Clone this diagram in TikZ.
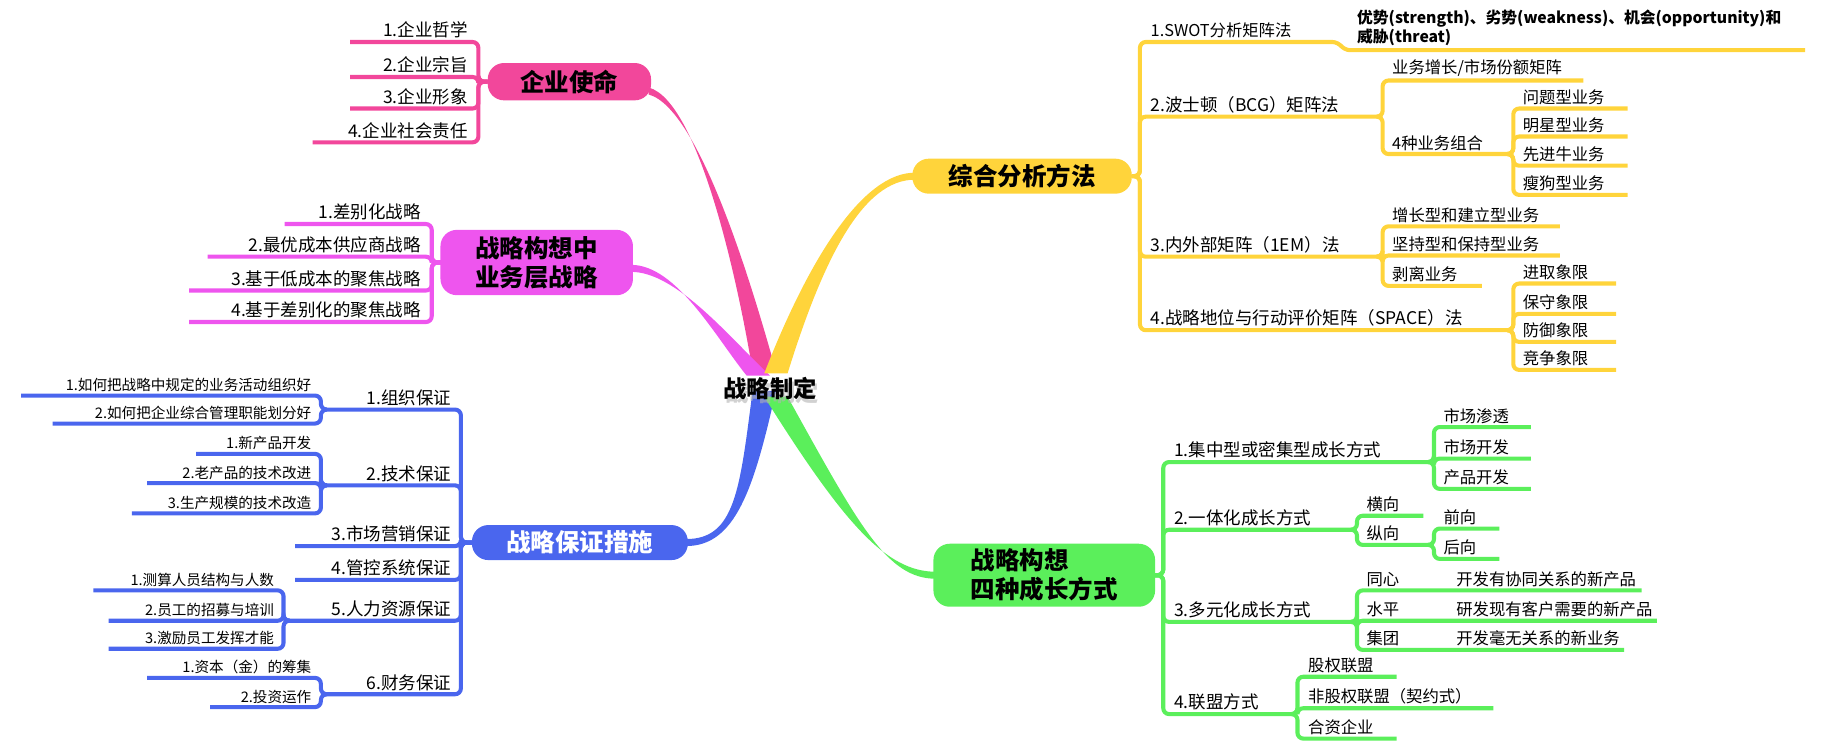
\documentclass[tikz,border=0pt]{standalone}
\usepackage{fontspec}
\setmainfont{Noto Sans CJK SC}
\usetikzlibrary{calc}
\definecolor{pk}{HTML}{F2479B}
\definecolor{mg}{HTML}{EE55EE}
\definecolor{bl}{HTML}{4A66EE}
\definecolor{ye}{HTML}{FFD43B}
\definecolor{gr}{HTML}{5BEF5B}
\tikzset{
 ln/.style={line width=3.5pt,rounded corners=5pt,#1},
 ta/.style={inner sep=1pt,font=\fontsize{14}{16}\selectfont},
 tb/.style={inner sep=1pt,font=\fontsize{15}{17}\selectfont},
 tc/.style={inner sep=1pt,font=\fontsize{12.5}{14}\selectfont},
 main/.style={rounded corners=14pt,inner sep=0pt,font=\bfseries\fontsize{21}{25}\selectfont,align=left}
}
\newcommand\br[9]{\draw[ln=#1] (#2,#3) -- (#4,#3) |- (#6,#5); \node[#8] at (#9,#5-2) {#7};}
\newcommand\taper[5]{\fill[#1] ($(#2)+(-10,0)$) .. controls ($(#3)+(-6,0)$) and ($(#4)+(0,-3)$) .. ($(#5)+(0,-3)$) -- ($(#5)+(0,3)$) .. controls ($(#4)+(0,3)$) and ($(#3)+(6,0)$) .. ($(#2)+(10,0)$) -- cycle;}
\begin{document}
\begin{tikzpicture}[x=1pt,y=-1pt]
\useasboundingbox (0,0) rectangle (1565,641);
\taper{pk}{655,318}{640,250}{600,90}{556,78}
\taper{mg}{650,322}{620,290}{580,230}{541,230}
\taper{bl}{655,335}{640,420}{630,465}{588,465}
\taper{ye}{665,320}{700,220}{740,151}{784,151}
\taper{gr}{665,340}{730,450}{760,493}{802,493}
\node[main,fill=pk,minimum width=140pt,minimum height=32pt] (m1) at (488,70) {企业使命};
\node[main,fill=mg,minimum width=165pt,minimum height=56pt] (m2) at (460,225) {战略构想中\\业务层战略};
\node[main,fill=bl,text=white,minimum width=185pt,minimum height=30pt] (m3) at (497,465) {战略保证措施};
\node[main,fill=ye,minimum width=188pt,minimum height=30pt] (m4) at (876,151) {综合分析方法};
\node[main,fill=gr,minimum width=190pt,minimum height=54pt] (m5) at (895,493) {战略构想\\四种成长方式};
\node[text=gray!60,opacity=.6,font=\bfseries\fontsize{20}{24}\selectfont] (cs) at (662,336) {战略制定};
\node[font=\bfseries\fontsize{20}{24}\selectfont] (c) at (660,333) {战略制定};
% pink
\br{pk}{418}{70}{410}{36}{300}{1.企业哲学}{tb,anchor=south east}{402}
\br{pk}{418}{70}{410}{66}{300}{2.企业宗旨}{tb,anchor=south east}{402}
\br{pk}{418}{70}{410}{93}{300}{3.企业形象}{tb,anchor=south east}{402}
\br{pk}{418}{70}{410}{122}{268}{4.企业社会责任}{tb,anchor=south east}{402}
% magenta
\br{mg}{378}{225}{370}{192}{244}{1.差别化战略}{tb,anchor=south east}{362}
\br{mg}{378}{225}{370}{220}{178}{2.最优成本供应商战略}{tb,anchor=south east}{362}
\br{mg}{378}{225}{370}{249}{162}{3.基于低成本的聚焦战略}{tb,anchor=south east}{362}
\br{mg}{378}{225}{370}{276}{162}{4.基于差别化的聚焦战略}{tb,anchor=south east}{362}
% blue
\br{bl}{405}{465}{395}{351}{278}{1.组织保证}{tb,anchor=south east}{388}
\br{bl}{405}{465}{395}{416}{275}{2.技术保证}{tb,anchor=south east}{388}
\br{bl}{405}{465}{395}{468}{253}{3.市场营销保证}{tb,anchor=south east}{388}
\br{bl}{405}{465}{395}{497}{253}{4.管控系统保证}{tb,anchor=south east}{388}
\br{bl}{405}{465}{395}{532}{243}{5.人力资源保证}{tb,anchor=south east}{388}
\br{bl}{405}{465}{395}{595}{275}{6.财务保证}{tb,anchor=south east}{388}
\br{bl}{280}{351}{275}{339}{18}{1.如何把战略中规定的业务活动组织好}{tc,anchor=south east}{268}
\br{bl}{280}{351}{275}{363}{45}{2.如何把企业综合管理职能划分好}{tc,anchor=south east}{268}
\br{bl}{280}{416}{275}{389}{168}{1.新产品开发}{tc,anchor=south east}{268}
\br{bl}{280}{416}{275}{414}{126}{2.老产品的技术改进}{tc,anchor=south east}{268}
\br{bl}{280}{416}{275}{440}{113}{3.生产规模的技术改造}{tc,anchor=south east}{268}
\br{bl}{248}{532}{243}{506}{80}{1.测算人员结构与人数}{tc,anchor=south east}{236}
\br{bl}{248}{532}{243}{532}{93}{2.员工的招募与培训}{tc,anchor=south east}{236}
\br{bl}{248}{532}{243}{556}{93}{3.激励员工发挥才能}{tc,anchor=south east}{236}
\br{bl}{280}{595}{275}{581}{126}{1.资本（金）的筹集}{tc,anchor=south east}{268}
\br{bl}{280}{595}{275}{606}{180}{2.投资运作}{tc,anchor=south east}{268}
% yellow
\draw[ln=ye] (970,151) -- (977,151) |- (1147,36) -- (1152,43) -- (1547,43);
\node[ta,anchor=south west] (y1) at (985,34) {1.SWOT分析矩阵法};
\node[inner sep=1pt,anchor=south west,align=left,font=\bfseries\fontsize{13.5}{14.5}\selectfont] (swot) at (1162,40) {优势(strength)、劣势(weakness)、机会(opportunity)和\\威胁(threat)};
\br{ye}{970}{151}{977}{100}{1185}{2.波士顿（BCG）矩阵法}{tb,anchor=south west}{985}
\br{ye}{970}{151}{977}{220}{1185}{3.内外部矩阵（1EM）法}{tb,anchor=south west}{985}
\br{ye}{970}{151}{977}{283}{1297}{4.战略地位与行动评价矩阵（SPACE）法}{tb,anchor=south west}{985}
\br{ye}{1180}{100}{1185}{69}{1357}{业务增长/市场份额矩阵}{ta,anchor=south west}{1192}
\br{ye}{1180}{100}{1185}{132}{1297}{4种业务组合}{ta,anchor=south west}{1192}
\br{ye}{1292}{132}{1297}{93}{1395}{问题型业务}{ta,anchor=south west}{1304}
\br{ye}{1292}{132}{1297}{117}{1395}{明星型业务}{ta,anchor=south west}{1304}
\br{ye}{1292}{132}{1297}{142}{1395}{先进牛业务}{ta,anchor=south west}{1304}
\br{ye}{1292}{132}{1297}{167}{1395}{瘦狗型业务}{ta,anchor=south west}{1304}
\br{ye}{1180}{220}{1185}{194}{1337}{增长型和建立型业务}{ta,anchor=south west}{1192}
\br{ye}{1180}{220}{1185}{219}{1337}{坚持型和保持型业务}{ta,anchor=south west}{1192}
\br{ye}{1180}{220}{1185}{245}{1270}{剥离业务}{ta,anchor=south west}{1192}
\br{ye}{1292}{283}{1297}{243}{1385}{进取象限}{ta,anchor=south west}{1304}
\br{ye}{1292}{283}{1297}{269}{1385}{保守象限}{ta,anchor=south west}{1304}
\br{ye}{1292}{283}{1297}{293}{1385}{防御象限}{ta,anchor=south west}{1304}
\br{ye}{1292}{283}{1297}{317}{1385}{竞争象限}{ta,anchor=south west}{1304}
% green
\br{gr}{990}{493}{997}{396}{1229}{1.集中型或密集型成长方式}{tb,anchor=south west}{1005}
\br{gr}{990}{493}{997}{454}{1163}{2.一体化成长方式}{tb,anchor=south west}{1005}
\br{gr}{990}{493}{997}{533}{1163}{3.多元化成长方式}{tb,anchor=south west}{1005}
\br{gr}{990}{493}{997}{612}{1112}{4.联盟方式}{tb,anchor=south west}{1005}
\br{gr}{1224}{396}{1229}{366}{1312}{市场渗透}{ta,anchor=south west}{1236}
\br{gr}{1224}{396}{1229}{393}{1312}{市场开发}{ta,anchor=south west}{1236}
\br{gr}{1224}{396}{1229}{419}{1312}{产品开发}{ta,anchor=south west}{1236}
\br{gr}{1158}{454}{1163}{442}{1220}{横向}{ta,anchor=south west}{1170}
\br{gr}{1158}{454}{1163}{467}{1229}{纵向}{ta,anchor=south west}{1170}
\br{gr}{1224}{467}{1229}{453}{1285}{前向}{ta,anchor=south west}{1236}
\br{gr}{1224}{467}{1229}{479}{1285}{后向}{ta,anchor=south west}{1236}
\br{gr}{1158}{533}{1163}{506}{1407}{开发有协同关系的新产品}{ta,anchor=south west}{1247}
\br{gr}{1158}{533}{1163}{532}{1420}{研发现有客户需要的新产品}{ta,anchor=south west}{1247}
\br{gr}{1158}{533}{1163}{557}{1392}{开发毫无关系的新业务}{ta,anchor=south west}{1247}
\node[ta,anchor=south west] (g1) at (1170,504) {同心};
\node[ta,anchor=south west] (g2) at (1170,530) {水平};
\node[ta,anchor=south west] (g3) at (1170,555) {集团};
\br{gr}{1107}{612}{1112}{580}{1197}{股权联盟}{ta,anchor=south west}{1120}
\br{gr}{1107}{612}{1112}{607}{1280}{非股权联盟（契约式）}{ta,anchor=south west}{1120}
\br{gr}{1107}{612}{1112}{633}{1197}{合资企业}{ta,anchor=south west}{1120}
\end{tikzpicture}
\end{document}
